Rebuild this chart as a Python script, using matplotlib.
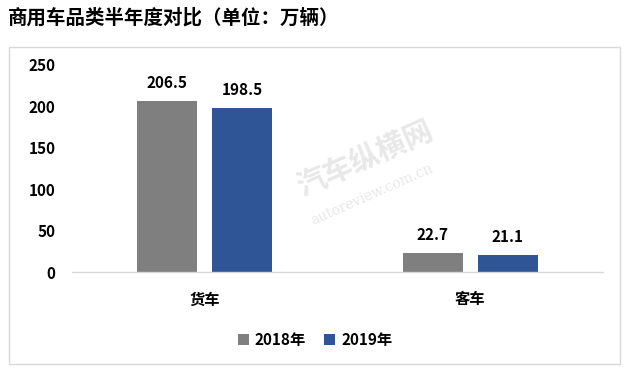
import matplotlib
matplotlib.use("Agg")
import matplotlib.pyplot as plt
from matplotlib.patches import Rectangle, Patch
import numpy as np

plt.rcParams['font.family'] = ['Noto Sans CJK SC', 'DejaVu Sans']

title = "商用车品类半年度对比（单位：万辆）"
categories = ["货车", "客车"]
series_names = ["2018年", "2019年"]
values_2018 = [206.5, 22.7]
values_2019 = [198.5, 21.1]
colors = ["#7f7f7f", "#2f5597"]
yticks = [0, 50, 100, 150, 200, 250]

fig = plt.figure(figsize=(6.28, 3.72), dpi=100)
ax = fig.add_axes([0.1146, 0.2688, 0.8455, 0.5565])

x = np.arange(len(categories))
w = 0.226
off = 0.142
for vals, dx, c in [(values_2018, -off, colors[0]), (values_2019, off, colors[1])]:
    bars = ax.bar(x + dx, vals, width=w, color=c, zorder=2)
    for b, v in zip(bars, vals):
        ax.annotate(f"{v:.1f}", (b.get_x() + b.get_width() / 2, v),
                    xytext=(0, 7), textcoords="offset points",
                    ha="center", va="bottom", fontsize=11, fontweight="bold",
                    color="#000000")

ax.set_xlim(-0.5, len(categories) - 0.5)
ax.set_ylim(0, 250)
ax.set_yticks(yticks)
ax.set_yticklabels([str(t) for t in yticks], fontsize=11, fontweight="bold")
ax.set_xticks(x)
ax.set_xticklabels(categories, fontsize=11, fontweight="bold")
ax.tick_params(axis="y", length=0, pad=12)
ax.tick_params(axis="x", length=0, pad=14)
for s in ["top", "right", "left"]:
    ax.spines[s].set_visible(False)
ax.spines["bottom"].set_color("#d9d9d9")
ax.spines["bottom"].set_linewidth(1.0)

# outer chart border
fig.patches.append(Rectangle((0.0143, 0.0215), 0.9727, 0.8522, transform=fig.transFigure,
                             fill=False, edgecolor="#d9d9d9", linewidth=1.0))

# watermark
fig.text(0.581, 0.575, "汽车纵横网", fontsize=21, fontweight="bold", color="#e8e8e8",
         rotation=24, ha="center", va="center", zorder=0)
fig.text(0.592, 0.476, "autoreview.com.cn", fontsize=10, color="#e8e8e8",
         rotation=24, ha="center", va="center", family="DejaVu Serif", zorder=0)

fig.text(0.013, 0.952, title, fontsize=14, fontweight="bold", ha="left", va="center",
         color="#000000")

handles = [Patch(facecolor=colors[0]), Patch(facecolor=colors[1])]
leg = fig.legend(handles, series_names, loc="center", bbox_to_anchor=(0.502, 0.086),
                 ncol=2, frameon=False, prop={"size": 11, "weight": "bold"},
                 handlelength=0.7, handleheight=0.7, handletextpad=0.4, columnspacing=1.2)

fig.savefig("out.png", dpi=100)
